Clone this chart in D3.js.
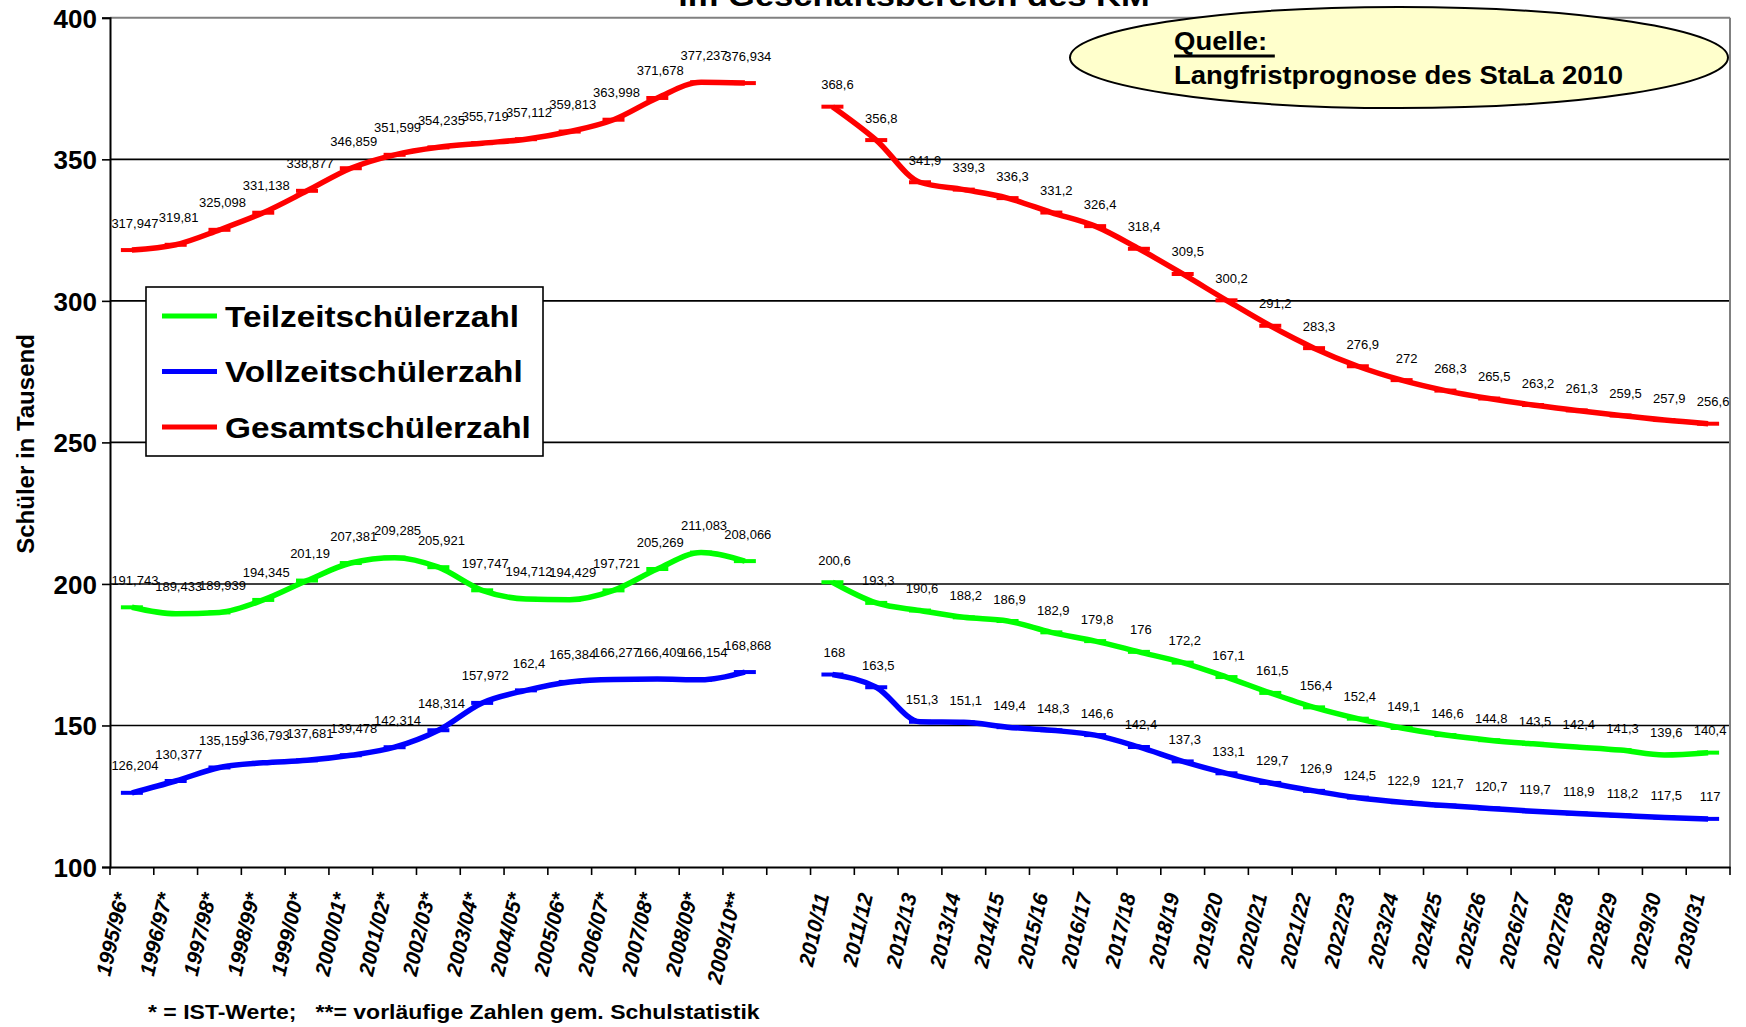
<!DOCTYPE html>
<html>
<head>
<meta charset="utf-8">
<script src="https://cdn.jsdelivr.net/npm/d3@7"></script>
<style>
  body { margin: 0; background: #fff; }
  svg { display: block; }
  text { font-family: "Liberation Sans", Arial, sans-serif; }
</style>
</head>
<body>
<svg id="chart" width="1746" height="1027"></svg>
<script>
// ---------- DATA ----------
const histCategories = ["1995/96*","1996/97*","1997/98*","1998/99*","1999/00*","2000/01*","2001/02*","2002/03*","2003/04*","2004/05*","2005/06*","2006/07*","2007/08*","2008/09*","2009/10**"];
const gapCategories = [" "];
const forecastCategories = ["2010/11","2011/12","2012/13","2013/14","2014/15","2015/16","2016/17","2017/18","2018/19","2019/20","2020/21","2021/22","2022/23","2023/24","2024/25","2025/26","2026/27","2027/28","2028/29","2029/30","2030/31"];

const teilzeitHist = [191.743,189.433,189.939,194.345,201.19,207.381,209.285,205.921,197.747,194.712,194.429,197.721,205.269,211.083,208.066];
const vollzeitHist = [126.204,130.377,135.159,136.793,137.681,139.478,142.314,148.314,157.972,162.4,165.384,166.277,166.409,166.154,168.868];
const gesamtHist   = [317.947,319.81,325.098,331.138,338.877,346.859,351.599,354.235,355.719,357.112,359.813,363.998,371.678,377.237,376.934];

const teilzeitForecast = [200.6,193.3,190.6,188.2,186.9,182.9,179.8,176,172.2,167.1,161.5,156.4,152.4,149.1,146.6,144.8,143.5,142.4,141.3,139.6,140.4];
const vollzeitForecast = [168,163.5,151.3,151.1,149.4,148.3,146.6,142.4,137.3,133.1,129.7,126.9,124.5,122.9,121.7,120.7,119.7,118.9,118.2,117.5,117];
const gesamtForecast   = [368.6,356.8,341.9,339.3,336.3,331.2,326.4,318.4,309.5,300.2,291.2,283.3,276.9,272,268.3,265.5,263.2,261.3,259.5,257.9,256.6];

const yTicks = [100,150,200,250,300,350,400];
const seriesNames = ["Teilzeitschülerzahl","Vollzeitschülerzahl","Gesamtschülerzahl"];
const seriesColors = ["#00FF00","#0000FF","#FF0000"];
const titleText = "im Geschäftsbereich des KM";
const yAxisTitle = "Schüler in Tausend";
const sourceLabel = "Quelle: ";
const sourceText = "Langfristprognose des StaLa 2010";
const footnoteText = "* = IST-Werte;   **= vorläufige Zahlen gem. Schulstatistik";

// ---------- LAYOUT ----------
const categories = histCategories.concat(gapCategories, forecastCategories);
const svg = d3.select("#chart");
svg.append("rect").attr("width",1746).attr("height",1027).attr("fill","#fff");

const plot = {left:110, right:1730, top:17.8, bottom:867};
const x = d3.scaleBand().domain(categories).range([plot.left, plot.right]).padding(0);
const y = d3.scaleLinear().domain([100,400]).range([plot.bottom, plot.top]);
const cx = c => x(c) + x.bandwidth()/2;

// gridlines
svg.append("g").selectAll("line").data(yTicks.filter(t => t>100 && t<400)).join("line")
  .attr("x1", plot.left).attr("x2", plot.right)
  .attr("y1", d => y(d)).attr("y2", d => y(d))
  .attr("stroke","#000").attr("stroke-width",1.6);
// top & right border (gray)
svg.append("line").attr("x1",plot.left).attr("x2",plot.right).attr("y1",y(400)).attr("y2",y(400))
  .attr("stroke","#808080").attr("stroke-width",2);
svg.append("line").attr("x1",plot.right).attr("x2",plot.right).attr("y1",y(400)).attr("y2",y(100))
  .attr("stroke","#808080").attr("stroke-width",2);

// y axis
const yAxis = svg.append("g").attr("transform",`translate(${plot.left},0)`)
  .call(d3.axisLeft(y).tickValues(yTicks).tickSize(8).tickPadding(5).tickFormat(d3.format("d")));
yAxis.select(".domain").attr("stroke","#000").attr("stroke-width",2);
yAxis.selectAll(".tick line").attr("stroke","#000").attr("stroke-width",1.6);
yAxis.selectAll(".tick text").attr("fill","#000")
  .style("font-size","26px").style("font-weight","bold")
  .style("font-family",'"Liberation Sans", Arial, sans-serif')
  .attr("dy","0.36em");

// x axis
const xAxis = svg.append("g").attr("transform",`translate(0,${plot.bottom})`)
  .call(d3.axisBottom(x).tickSize(0).tickFormat(""));
xAxis.select(".domain").attr("stroke","#000").attr("stroke-width",2);
const boundaries = categories.map(c => x(c)).concat([plot.right]);
svg.append("g").selectAll("line").data(boundaries).join("line")
  .attr("x1", d => d).attr("x2", d => d)
  .attr("y1", plot.bottom).attr("y2", plot.bottom + 8)
  .attr("stroke","#000").attr("stroke-width",1.6);
svg.append("g").selectAll("text").data(categories).join("text")
  .attr("transform", c => `translate(${cx(c)-3},${plot.bottom+28}) rotate(-77)`)
  .attr("text-anchor","end")
  .style("font-size","21px").style("font-weight","bold").style("font-style","italic")
  .attr("fill","#000")
  .text(c => c.trim());

// ---------- SERIES ----------
const line = d3.line().x(d => d.x).y(d => d.y).curve(d3.curveMonotoneX);
const fmt = v => String(v).replace(".", ",");

const segments = [
  {cats: histCategories, values: [teilzeitHist, vollzeitHist, gesamtHist], dy: -27, dx: [3,3,3]},
  {cats: forecastCategories, values: [teilzeitForecast, vollzeitForecast, gesamtForecast], dy: -22, dx: [2,2,5]}
];

const labelLayer = svg.append("g");
segments.forEach(seg => {
  seg.values.forEach((vals, si) => {
    const pts = vals.map((v,i) => ({x: cx(seg.cats[i]), y: y(v), v}));
    svg.append("path").attr("d", line(pts)).attr("fill","none")
      .attr("stroke", seriesColors[si]).attr("stroke-width",5.5)
      .attr("stroke-linejoin","round");
    svg.append("g").selectAll("line").data(pts).join("line")
      .attr("x1", d => d.x-11).attr("x2", d => d.x+11)
      .attr("y1", d => d.y).attr("y2", d => d.y)
      .attr("stroke", seriesColors[si]).attr("stroke-width",4);
    labelLayer.selectAll(null).data(pts).join("text")
      .attr("x", d => d.x + seg.dx[si]).attr("y", d => d.y + seg.dy + 4.5)
      .attr("text-anchor","middle")
      .style("font-size","13px").attr("fill","#000")
      .text(d => fmt(d.v));
  });
});
labelLayer.raise();

// ---------- LEGEND ----------
const lg = svg.append("g");
lg.append("rect").attr("x",146).attr("y",287).attr("width",397).attr("height",169)
  .attr("fill","#fff").attr("stroke","#000").attr("stroke-width",1.6);
seriesNames.forEach((name,i) => {
  const cy = 316 + i*55.5;
  lg.append("line").attr("x1",162).attr("x2",217).attr("y1",cy).attr("y2",cy)
    .attr("stroke",seriesColors[i]).attr("stroke-width",5);
  lg.append("text").attr("transform",`translate(225,${cy+10.5}) scale(1.15,1)`)
    .style("font-size","29px").style("font-weight","bold").attr("fill","#000").text(name);
});

// ---------- SOURCE ELLIPSE ----------
svg.append("ellipse").attr("cx",1399).attr("cy",57.5).attr("rx",329).attr("ry",50.5)
  .attr("fill","#FFFFCC").attr("stroke","#000").attr("stroke-width",2);
const q = svg.append("text").attr("transform","translate(1174,50) scale(1.1,1)")
  .style("font-size","25px").style("font-weight","bold").style("white-space","pre")
  .attr("fill","#000").text(sourceLabel);
const qLen = q.node().getComputedTextLength() * 1.1;
svg.append("line").attr("x1",1174).attr("x2",1174+qLen).attr("y1",56).attr("y2",56)
  .attr("stroke","#000").attr("stroke-width",3);
svg.append("text").attr("transform","translate(1174,84) scale(1.1,1)")
  .style("font-size","25px").style("font-weight","bold").attr("fill","#000").text(sourceText);

// ---------- TITLES ----------
svg.append("text").attr("transform","translate(914,6) scale(1.15,1)")
  .attr("text-anchor","middle").style("font-size","30px").style("font-weight","bold")
  .attr("fill","#000").text(titleText);
svg.append("text").attr("transform","translate(34,444) rotate(-90)")
  .attr("text-anchor","middle").style("font-size","24px").style("font-weight","bold")
  .attr("fill","#000").text(yAxisTitle);
svg.append("text").attr("transform","translate(148,1019) scale(1.15,1)")
  .style("font-size","20px").style("font-weight","bold").style("white-space","pre")
  .attr("fill","#000").text(footnoteText);
</script>
</body>
</html>
